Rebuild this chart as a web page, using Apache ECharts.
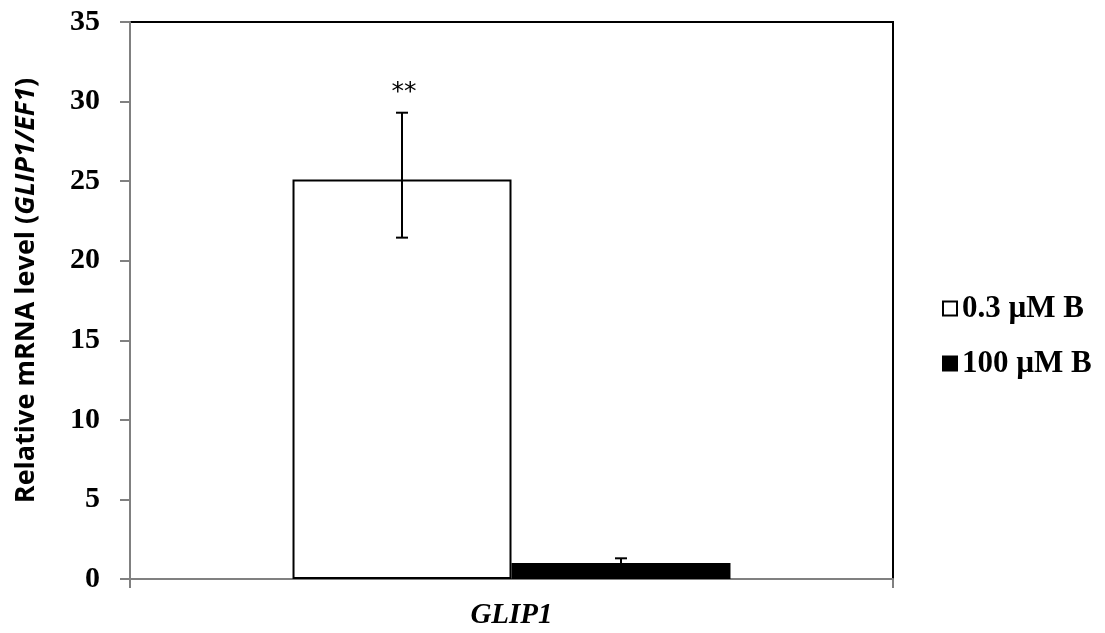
<!DOCTYPE html>
<html><head><meta charset="utf-8">
<script src="https://cdn.jsdelivr.net/npm/echarts@6/dist/echarts.min.js"></script>
<style>html,body{margin:0;padding:0;background:#fff}#c{width:1105px;height:633px}</style>
</head><body><div id="c"></div>
<script>
var categories = ['GLIP1'];
var seriesNames = ['0.3 \u00b5M B', '100 \u00b5M B'];
var lowB = [25.1];
var highB = [1.0];
var lowBErrUp = [4.2];
var lowBErrDown = [3.65];
var highBErrUp = [0.3];
var highBErrDown = [0.3];
var significance = ['**', ''];
var yTicks = [0, 5, 10, 15, 20, 25, 30, 35];

var GAP = 0.426;
function errSeries(vals, up, down, idx, sig) {
  return {
    type: 'custom', z: 10, silent: true,
    data: vals.map(function (v, i) { return [i, v, up[i], down[i]]; }),
    renderItem: function (params, api) {
      var ci = api.value(0), v = api.value(1), eu = api.value(2), ed = api.value(3);
      var bw = api.size([1, 0])[0] * (1 - GAP) / 2;
      var off = (idx === 0 ? -0.5 : 0.5) * bw;
      var top = api.coord([ci, v + eu]);
      var bot = api.coord([ci, v - ed]);
      var x = top[0] + off;
      var cap = 6;
      var children = [
        {type: 'line', shape: {x1: x, y1: top[1], x2: x, y2: bot[1]}, style: {stroke: '#000', lineWidth: 2}},
        {type: 'line', shape: {x1: x - cap, y1: top[1], x2: x + cap, y2: top[1]}, style: {stroke: '#000', lineWidth: 2}},
        {type: 'line', shape: {x1: x - cap, y1: bot[1], x2: x + cap, y2: bot[1]}, style: {stroke: '#000', lineWidth: 2}}
      ];
      if (sig) {
        children.push({type: 'text', style: {text: sig, x: x + 2, y: top[1] - 8, textAlign: 'center', textVerticalAlign: 'bottom', font: '25px "DejaVu Sans"', fill: '#000'}});
      }
      return {type: 'group', children: children};
    }
  };
}

var chart = echarts.init(document.getElementById('c'));
chart.setOption({
  animation: false,
  grid: {left: 130, right: 212, top: 22, bottom: 54, show: true, borderColor: '#000', borderWidth: 2, backgroundColor: 'transparent'},
  legend: {
    orient: 'vertical', left: 937, top: 288, itemGap: 24, itemWidth: 14, itemHeight: 14, icon: 'rect',
    textStyle: {fontFamily: 'Liberation Serif', fontWeight: 'bold', fontSize: 31, color: '#000', padding: [0, 0, 0, 0]},
    data: seriesNames
  },
  xAxis: {
    type: 'category', data: categories,
    axisLine: {lineStyle: {color: '#808080', width: 2}},
    axisTick: {show: true, length: 9, lineStyle: {color: '#808080', width: 2}},
    axisLabel: {fontFamily: 'Liberation Serif', fontStyle: 'italic', fontWeight: 'bold', fontSize: 29, color: '#000', margin: 22}
  },
  yAxis: {
    type: 'value', min: 0, max: 35, interval: 5,
    axisLine: {show: true, lineStyle: {color: '#808080', width: 2}},
    axisTick: {show: true, length: 10, lineStyle: {color: '#808080', width: 2}},
    splitLine: {show: false},
    axisLabel: {fontFamily: 'Liberation Serif', fontWeight: 'bold', fontSize: 30, color: '#000', margin: 30,
      formatter: function (v) { return yTicks.indexOf(v) >= 0 ? String(v) : ''; }},
    name: '{n|Relative mRNA level (}{i|GLIP1/EF1}{n|)}',
    nameLocation: 'middle', nameGap: 90, nameRotate: 90,
    nameTextStyle: {padding: [0, 0, 0, 20], rich: {
      n: {fontFamily: 'Open Sans', fontWeight: 'bold', fontSize: 27, color: '#000'},
      i: {fontFamily: 'Open Sans', fontWeight: 'bold', fontStyle: 'italic', fontSize: 27, color: '#000'}
    }}
  },
  series: [
    {name: seriesNames[0], type: 'bar', data: lowB, barGap: '0%', barCategoryGap: '42.6%',
      itemStyle: {color: '#fff', borderColor: '#000', borderWidth: 2}},
    {name: seriesNames[1], type: 'bar', data: highB,
      itemStyle: {color: '#000', borderColor: '#000', borderWidth: 2}},
    errSeries(lowB, lowBErrUp, lowBErrDown, 0, significance[0]),
    errSeries(highB, highBErrUp, highBErrDown, 1, significance[1])
  ]
});
</script></body></html>
